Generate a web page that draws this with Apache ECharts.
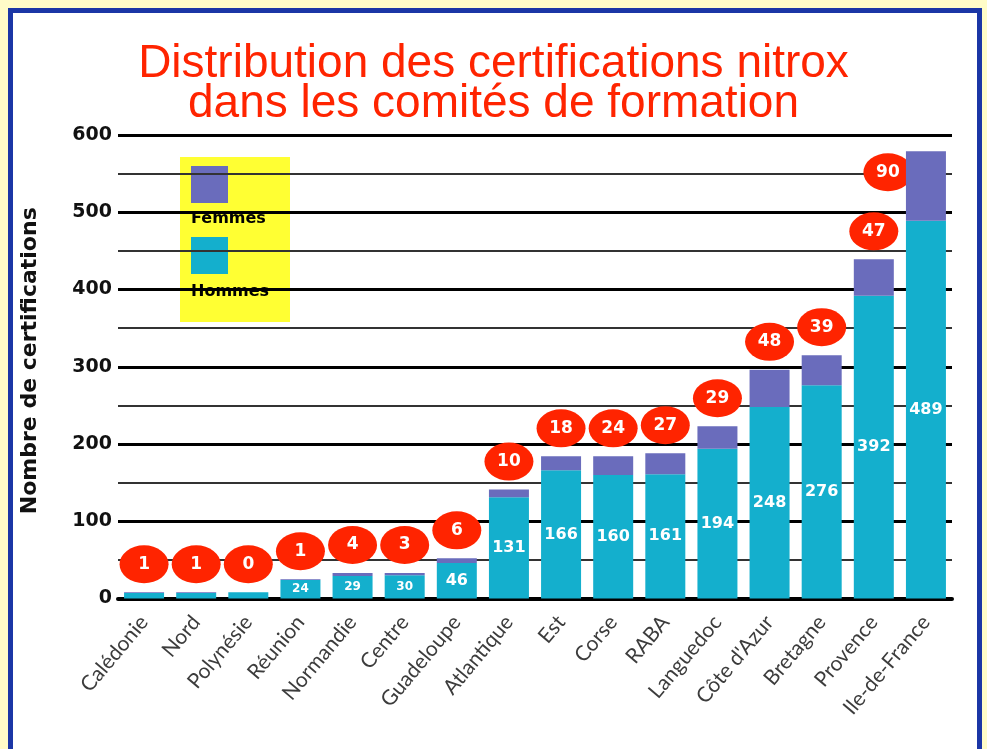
<!DOCTYPE html>
<html>
<head>
<meta charset="utf-8">
<script src="https://cdn.jsdelivr.net/npm/echarts@6/dist/echarts.min.js"></script>
<style>
  html, body { margin: 0; padding: 0; width: 987px; height: 749px; overflow: hidden; background: #fffcc8; }
  #panel { position: absolute; left: 8px; top: 8px; width: 964px; height: 800px;
           border: 5px solid #1b36a6; background: #ffffff; }
  #chart { position: absolute; left: 0; top: 0; width: 987px; height: 749px; }
</style>
</head>
<body>
<div id="panel"></div>
<div id="chart"></div>
<script>
// Comités de formation, ordered by number of nitrox certifications
const comites = ['Calédonie', 'Nord', 'Polynésie', 'Réunion', 'Normandie', 'Centre', 'Guadeloupe',
  'Atlantique', 'Est', 'Corse', 'RABA', 'Languedoc', "Côte d'Azur", 'Bretagne', 'Provence', 'Ile-de-France'];
const hommes = [7, 7, 8, 24, 29, 30, 46, 131, 166, 160, 161, 194, 248, 276, 392, 489];
const femmes = [1, 1, 0, 1, 4, 3, 6, 10, 18, 24, 27, 29, 48, 39, 47, 90];
const yTicks = [0, 100, 200, 300, 400, 500, 600];

const COL_H = '#14afcd';
const COL_F = '#6a6cbc';
const RED = '#ff2400';

const chart = echarts.init(document.getElementById('chart'), null, { renderer: 'canvas' });

// total height of each stacked column, used to seat the red badge above it
const totals = hommes.map((h, i) => h + femmes[i]);

const badgeData = totals.map((t, i) => {
  const item = { value: [i, t], femmes: femmes[i] };
  if (i === comites.length - 1) {
    // the tallest column has no room above it: badge sits on its left flank
    item.symbolOffset = [-38, 21];
  }
  return item;
});

chart.setOption({
  animation: false,
  title: {
    text: 'Distribution des certifications nitrox\ndans les comités de formation',
    left: 'center',
    top: 39,
    textStyle: {
      color: RED,
      fontFamily: 'Liberation Sans',
      fontWeight: 'normal',
      fontSize: 46,
      lineHeight: 40
    }
  },
  grid: { left: 118, top: 135, width: 834, height: 463.5, containLabel: false },
  xAxis: {
    type: 'category',
    data: comites,
    axisLine: { lineStyle: { color: '#000', width: 4 } },
    axisTick: { show: false },
    axisLabel: {
      rotate: 50,
      margin: 20,
      color: '#3c3c3c',
      fontFamily: 'Lato',
      fontSize: 21,
      interval: 0
    }
  },
  yAxis: {
    type: 'value',
    min: yTicks[0],
    max: yTicks[yTicks.length - 1],
    interval: 100,
    name: 'Nombre de certifications',
    nameLocation: 'middle',
    nameRotate: 90,
    nameGap: 77,
    nameTextStyle: { color: '#111', fontFamily: 'DejaVu Sans', fontWeight: 'bold', fontSize: 22, padding: [0, 0, 0, 12] },
    axisLine: { show: false },
    axisTick: { show: false },
    axisLabel: { color: '#111', fontFamily: 'DejaVu Sans', fontWeight: 'bold', fontSize: 19, margin: 6 },
    splitLine: { lineStyle: { color: '#000', width: 3 } },
    minorTick: { show: false, splitNumber: 2 },
    minorSplitLine: { show: true, lineStyle: { color: '#333', width: 2 } }
  },
  graphic: [
    {
      type: 'group', left: 180, top: 157, z: 10,
      children: [
        { type: 'rect', shape: { x: 0, y: 0, width: 110, height: 165 }, style: { fill: '#ffff33' } },
        { type: 'rect', shape: { x: 11, y: 9, width: 37, height: 37 }, style: { fill: COL_F } },
        { type: 'text', x: 11, y: 62, style: { text: 'Femmes', fill: '#000', font: 'bold 16px "DejaVu Sans"', verticalAlign: 'middle' } },
        { type: 'rect', shape: { x: 11, y: 80, width: 37, height: 37 }, style: { fill: COL_H } },
        { type: 'text', x: 11, y: 135, style: { text: 'Hommes', fill: '#000', font: 'bold 16px "DejaVu Sans"', verticalAlign: 'middle' } }
      ]
    }
  ],
  series: [
    {
      name: 'Hommes',
      type: 'bar',
      stack: 'total',
      barWidth: 40,
      z: 3,
      itemStyle: { color: COL_H },
      data: hommes,
      label: {
        show: true,
        position: 'inside',
        formatter: p => p.value < 20 ? '' : (p.value < 40 ? '{s|' + p.value + '}' : '{b|' + p.value + '}'),
        rich: {
          s: { color: '#fff', fontFamily: 'DejaVu Sans', fontWeight: 'bold', fontSize: 12 },
          b: { color: '#fff', fontFamily: 'DejaVu Sans', fontWeight: 'bold', fontSize: 16 }
        }
      }
    },
    {
      name: 'Femmes',
      type: 'bar',
      stack: 'total',
      barWidth: 40,
      z: 3,
      itemStyle: { color: COL_F },
      data: femmes
    },
    {
      name: 'Badges',
      type: 'scatter',
      z: 2,
      symbol: 'circle',
      symbolSize: [49, 38],
      symbolOffset: [0, -28],
      itemStyle: { color: RED, opacity: 1 },
      data: badgeData,
      label: {
        show: true,
        position: 'inside',
        formatter: p => String(p.data.femmes),
        color: '#fff',
        fontFamily: 'DejaVu Sans',
        fontWeight: 'bold',
        fontSize: 17
      }
    }
  ]
});
</script>
</body>
</html>
